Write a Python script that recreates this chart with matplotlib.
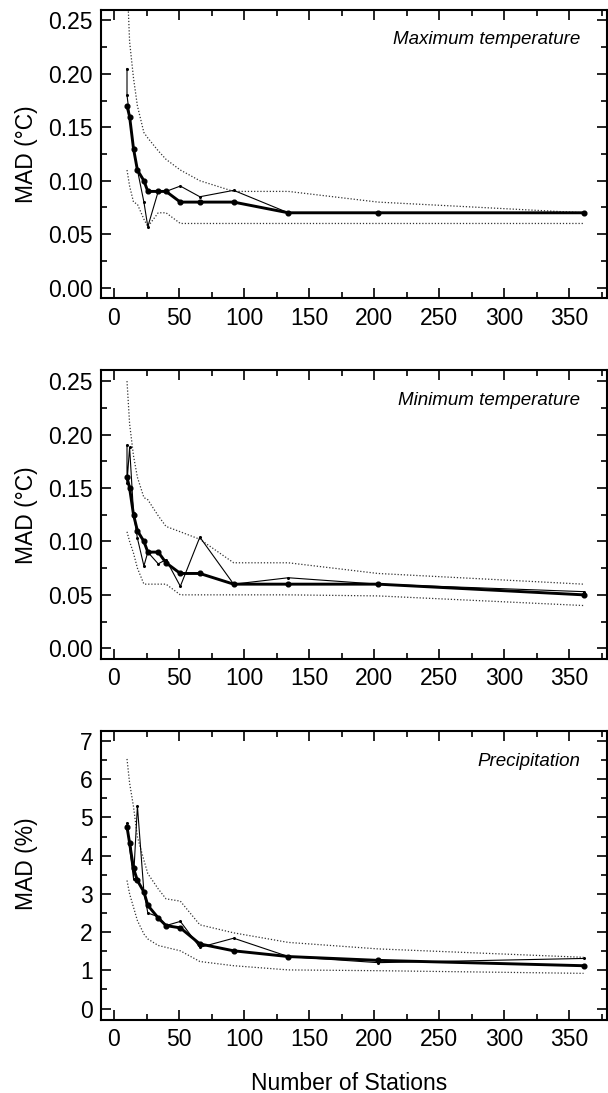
import numpy as np
import matplotlib
matplotlib.use("Agg")
import matplotlib.pyplot as plt
from matplotlib.ticker import MultipleLocator, FormatStrFormatter

plt.rcParams["font.family"] = ["Liberation Sans", "DejaVu Sans"]

# ── Data ─────────────────────────────────────────────────────────────────────
stations = [10, 12, 15, 18, 23, 26, 34, 40, 51, 66, 92, 134, 203, 361]

# maximum temperature
tmax_mean = [0.170, 0.160, 0.130, 0.110, 0.100, 0.090, 0.090, 0.090, 0.080, 0.080, 0.080, 0.070, 0.070, 0.070]
tmax_thin_x = [10, 10, 12, 15, 18, 23, 26, 34, 40, 51, 66, 92, 134, 203, 361]
tmax_thin = [0.205, 0.180, 0.160, 0.130, 0.110, 0.080, 0.057, 0.090, 0.090, 0.095, 0.085, 0.091, 0.070, 0.070, 0.070]
tmax_hi = [0.290, 0.230, 0.196, 0.170, 0.145, 0.140, 0.128, 0.120, 0.110, 0.100, 0.090, 0.090, 0.080, 0.070]
tmax_lo = [0.110, 0.095, 0.080, 0.078, 0.064, 0.057, 0.070, 0.070, 0.060, 0.060, 0.060, 0.060, 0.060, 0.060]

# minimum temperature
tmin_mean = [0.160, 0.150, 0.125, 0.110, 0.100, 0.090, 0.090, 0.080, 0.070, 0.070, 0.060, 0.060, 0.060, 0.050]
tmin_thin_x = [10, 10, 12, 15, 18, 23, 26, 34, 40, 51, 66, 92, 134, 203, 361]
tmin_thin = [0.190, 0.155, 0.188, 0.127, 0.103, 0.077, 0.090, 0.079, 0.083, 0.058, 0.104, 0.060, 0.066, 0.060, 0.053]
tmin_hi = [0.250, 0.210, 0.180, 0.160, 0.141, 0.139, 0.124, 0.114, 0.109, 0.102, 0.080, 0.080, 0.070, 0.060]
tmin_lo = [0.109, 0.100, 0.089, 0.075, 0.060, 0.060, 0.060, 0.060, 0.050, 0.050, 0.050, 0.050, 0.049, 0.040]

# precipitation
prcp_mean = [4.75, 4.33, 3.67, 3.35, 3.05, 2.70, 2.37, 2.17, 2.11, 1.69, 1.51, 1.36, 1.26, 1.12]
prcp_thin_x = [10, 12, 15, 18, 23, 26, 34, 40, 51, 66, 92, 134, 203, 361]
prcp_thin = [4.85, 4.20, 3.40, 5.30, 3.05, 2.50, 2.40, 2.17, 2.28, 1.60, 1.84, 1.36, 1.20, 1.31]
prcp_hi = [6.53, 5.90, 5.28, 4.49, 3.88, 3.53, 3.13, 2.87, 2.81, 2.19, 1.98, 1.73, 1.56, 1.34]
prcp_lo = [3.35, 3.00, 2.65, 2.30, 1.95, 1.82, 1.65, 1.60, 1.51, 1.23, 1.12, 1.01, 0.99, 0.92]

panels = [
    ("Maximum temperature", "MAD (°C)", tmax_mean, tmax_thin_x, tmax_thin, tmax_hi, tmax_lo),
    ("Minimum temperature", "MAD (°C)", tmin_mean, tmin_thin_x, tmin_thin, tmin_hi, tmin_lo),
    ("Precipitation", "MAD (%)", prcp_mean, prcp_thin_x, prcp_thin, prcp_hi, prcp_lo),
]

# ── Figure ───────────────────────────────────────────────────────────────────
fig = plt.figure(figsize=(6.08, 10.93), dpi=100)
left, width = 0.1661, 0.8322
bottoms = [0.7271, 0.3971, 0.0668]
height = 0.2640

for i, (title, ylab, mean, tx, thin, hi, lo) in enumerate(panels):
    ax = fig.add_axes([left, bottoms[i], width, height])

    ax.plot(stations, hi, linestyle=(0, (1, 1.5)), color="#333333", linewidth=0.9, zorder=2)
    ax.plot(stations, lo, linestyle=(0, (1, 1.5)), color="#333333", linewidth=0.9, zorder=2)
    ax.plot(tx, thin, color="black", linewidth=0.8, marker="o", markersize=1.2, zorder=3)
    ax.plot(stations, mean, color="black", linewidth=2.1, marker="o", markersize=3.4, zorder=4)

    ax.set_xlim(-10, 379)
    ax.xaxis.set_major_locator(MultipleLocator(50))
    ax.xaxis.set_minor_locator(MultipleLocator(25))

    if i < 2:
        ax.set_ylim(-0.01, 0.26)
        ax.yaxis.set_major_locator(MultipleLocator(0.05))
        ax.yaxis.set_minor_locator(MultipleLocator(0.025))
        ax.yaxis.set_major_formatter(FormatStrFormatter("%.2f"))
        ylab_y = 0.5
    else:
        ax.set_ylim(-0.3, 7.25)
        ax.yaxis.set_major_locator(MultipleLocator(1))
        ax.yaxis.set_minor_locator(MultipleLocator(0.5))
        ylab_y = 0.54

    ax.tick_params(which="both", direction="in", top=True, right=True, width=1.2)
    ax.tick_params(which="major", length=7, labelsize=16.5, pad=6)
    ax.tick_params(which="minor", length=4)
    for sp in ax.spines.values():
        sp.set_linewidth(1.5)

    ax.set_ylabel(ylab, fontsize=16.5)
    ax.yaxis.set_label_coords(-0.125, ylab_y)

    ax.text(0.947, 0.897, title, transform=ax.transAxes, ha="right", va="center",
            fontsize=13.5, style="italic")

    if i == 2:
        ax.set_xlabel("Number of Stations", fontsize=16.5)
        ax.xaxis.set_label_coords(0.49, -0.18)

fig.savefig("out.png", dpi=100)
